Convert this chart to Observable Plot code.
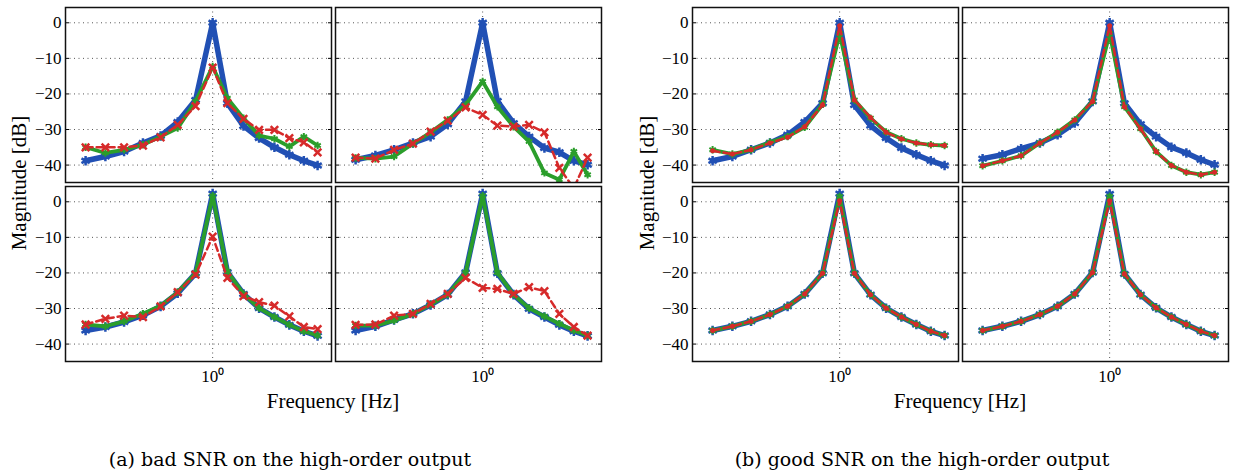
<!DOCTYPE html>
<html><head><meta charset="utf-8">
<script src="https://cdn.jsdelivr.net/npm/d3@7"></script>
<script src="https://cdn.jsdelivr.net/npm/@observablehq/plot@0.6"></script>
<style>
body{margin:0;background:#fff;}
#wrap{position:relative;width:1234px;height:473px;overflow:hidden;background:#fff;font-family:"Liberation Serif","Times New Roman",serif;color:#000;}
#wrap svg{position:absolute;top:0;}
.lbl{position:absolute;white-space:nowrap;transform:translate(-50%,-50%);line-height:1;}
.ylab{transform:translate(-50%,-50%) rotate(-90deg);}
.cap{font-family:"DejaVu Serif",serif;font-size:19px;}
</style></head><body><div id="wrap"></div>
<script>
// frequency grid [Hz]
const freqs = [0.309, 0.371, 0.441, 0.525, 0.618, 0.724, 0.854, 1.0, 1.146, 1.33, 1.536, 1.77, 2.032, 2.323, 2.638];
const yTicks = [0, -10, -20, -30, -40];
const xTicks = [1];

// (a) bad SNR — top-left
const a1Blue  = [-38.8,-37.6,-36.2,-33.8,-31.8,-27.9,-21.7,0,-22.6,-29.0,-32.4,-35.0,-37.1,-38.8,-40.1];
const a1Green = [-35.0,-36.6,-35.7,-34.3,-32.0,-29.6,-22.1,-12.3,-21.2,-26.8,-31.7,-32.6,-34.8,-32.0,-34.5];
const a1Red   = [-35.0,-35.0,-35.0,-34.5,-32.2,-28.7,-23.4,-12.6,-22.6,-27.0,-30.1,-30.1,-32.4,-33.6,-36.4];
// (a) top-right
const a2Blue  = [-38.5,-37.3,-35.7,-33.8,-32.0,-28.5,-22.1,0,-22.0,-28.2,-32.0,-35.2,-36.4,-38.8,-39.9];
const a2Green = [-38.0,-38.2,-37.6,-34.0,-30.8,-27.3,-23.1,-16.5,-23.6,-29.2,-33.4,-42.2,-44.1,-36.2,-42.7];
const a2Red   = [-37.9,-38.2,-35.7,-34.0,-30.6,-27.5,-23.8,-25.9,-28.9,-29.2,-28.7,-30.8,-40.8,-46.5,-37.9];
// (a) bottom-left
const a3Blue  = [-36.2,-35.2,-33.8,-31.9,-29.4,-25.7,-20.1,2.3,-19.8,-25.9,-29.9,-32.4,-34.6,-36.4,-37.7];
const a3Green = [-34.5,-35.0,-33.6,-31.5,-29.2,-25.4,-20.1,1.7,-19.6,-25.9,-29.9,-32.4,-34.6,-36.4,-37.6];
const a3Red   = [-34.5,-32.9,-32.0,-32.4,-29.4,-25.4,-20.5,-9.8,-21.4,-26.5,-28.2,-29.2,-32.2,-35.2,-35.8];
// (a) bottom-right
const a4Blue  = [-36.2,-35.0,-33.2,-31.5,-29.0,-26.1,-19.9,2.3,-20.1,-26.1,-30.1,-32.4,-34.6,-36.4,-37.7];
const a4Green = [-34.8,-34.8,-33.4,-31.5,-28.9,-26.1,-19.9,1.7,-19.9,-26.1,-29.9,-32.2,-34.3,-36.2,-37.6];
const a4Red   = [-34.6,-34.5,-32.0,-31.5,-28.7,-25.9,-21.4,-24.2,-24.5,-25.9,-24.0,-25.1,-31.5,-35.2,-37.6];
// (b) good SNR — top-left
const b1Blue  = [-38.8,-37.6,-35.7,-33.8,-31.5,-27.9,-22.6,0,-23.1,-28.9,-32.4,-35.2,-37.1,-38.8,-40.1];
const b1Green = [-35.7,-36.9,-35.7,-33.6,-32.0,-29.4,-22.9,-3.0,-21.7,-26.8,-30.7,-32.6,-33.8,-34.3,-34.5];
const b1Red   = [-36.0,-36.9,-35.7,-33.8,-32.2,-29.2,-23.1,-0.8,-21.7,-26.6,-30.8,-32.7,-33.8,-34.3,-34.5];
// (b) top-right
const b2Blue  = [-38.2,-37.1,-35.4,-33.8,-31.5,-28.2,-22.1,0,-22.6,-28.5,-32.0,-35.0,-36.6,-38.5,-39.9];
const b2Green = [-40.2,-38.8,-37.4,-33.8,-30.8,-27.3,-22.1,-3.0,-23.6,-29.8,-36.2,-40.1,-42.0,-42.7,-42.0];
const b2Red   = [-40.2,-38.8,-37.4,-33.8,-30.8,-27.3,-22.1,-0.8,-23.6,-29.8,-36.2,-40.1,-42.0,-42.7,-42.0];
// (b) bottom-left
const b3Blue  = [-36.2,-35.0,-33.6,-31.7,-29.4,-25.9,-20.1,2.3,-20.1,-26.1,-29.9,-32.4,-34.5,-36.4,-37.6];
const b3Green = [-36.2,-35.0,-33.6,-31.7,-29.4,-25.9,-20.1,1.5,-20.1,-26.1,-29.9,-32.4,-34.5,-36.4,-37.6];
const b3Red   = [-36.2,-35.0,-33.6,-31.7,-29.4,-25.9,-20.1,0.3,-20.1,-26.1,-29.9,-32.4,-34.5,-36.4,-37.6];
// (b) bottom-right
const b4Blue  = [-36.2,-35.0,-33.6,-31.7,-29.4,-25.9,-19.9,2.2,-20.3,-26.1,-29.8,-32.4,-34.5,-36.4,-37.6];
const b4Green = [-36.2,-35.0,-33.6,-31.7,-29.4,-25.9,-19.9,1.5,-20.3,-26.1,-29.8,-32.4,-34.5,-36.4,-37.6];
const b4Red   = [-36.2,-35.0,-33.6,-31.7,-29.4,-25.9,-19.9,0.3,-20.3,-26.1,-29.8,-32.4,-34.5,-36.4,-37.6];

const BLUE = "#2150b4", GREEN = "#2b9e2b", RED = "#d62a2a";

function build(panels) {
  const rows = [];
  for (const p of panels) {
    for (const [s, vals] of [["blue", p.blue], ["green", p.green], ["red", p.red]]) {
      vals.forEach((v, i) => rows.push({row: p.row, col: p.col, series: s, f: freqs[i], db: v}));
    }
  }
  return rows;
}

const dataA = build([
  {row: 0, col: 0, blue: a1Blue, green: a1Green, red: a1Red},
  {row: 0, col: 1, blue: a2Blue, green: a2Green, red: a2Red},
  {row: 1, col: 0, blue: a3Blue, green: a3Green, red: a3Red},
  {row: 1, col: 1, blue: a4Blue, green: a4Green, red: a4Red}
]);
const dataB = build([
  {row: 0, col: 0, blue: b1Blue, green: b1Green, red: b1Red},
  {row: 0, col: 1, blue: b2Blue, green: b2Green, red: b2Red},
  {row: 1, col: 0, blue: b3Blue, green: b3Green, red: b3Red},
  {row: 1, col: 1, blue: b4Blue, green: b4Green, red: b4Red}
]);

function groupPlot(data, o) {
  const isB = o.redDots;
  const ser = s => d => d.series === s;
  return Plot.plot({
    width: o.width, height: 392,
    marginLeft: o.ml, marginRight: o.mr, marginTop: 6, marginBottom: 30,
    style: {fontFamily: "'Liberation Serif', 'Times New Roman', serif", fontSize: "17px", background: "transparent", color: "#000"},
    x: {type: "log", domain: [0.2566, 3.0]},
    y: {domain: [-44.9, 4.3]},
    fx: {domain: [0, 1], paddingInner: o.px, paddingOuter: 0, axis: null},
    fy: {domain: [0, 1], paddingInner: 0.0222, paddingOuter: 0, axis: null},
    facet: {data, x: "col", y: "row"},
    marks: [
      Plot.gridY(yTicks, {stroke: "#555", strokeOpacity: 1, strokeWidth: 1, strokeDasharray: "1,3.5"}),
      Plot.ruleX(xTicks, {stroke: "#555", strokeOpacity: 1, strokeWidth: 1, strokeDasharray: "1,3.5"}),
      Plot.line(data, {filter: ser("blue"), x: "f", y: "db", stroke: BLUE, strokeWidth: 5.5, strokeLinejoin: "round", clip: true}),
      Plot.dot(data, {filter: ser("blue"), x: "f", y: "db", symbol: "asterisk", r: 4.5, stroke: BLUE, strokeWidth: 2.5, clip: true}),
      Plot.line(data, {filter: ser("green"), x: "f", y: "db", stroke: GREEN, strokeWidth: 3.8, strokeLinejoin: "round", clip: true}),
      Plot.dot(data, {filter: ser("green"), x: "f", y: "db", symbol: "asterisk", r: 3.5, stroke: GREEN, strokeWidth: 2, clip: true}),
      Plot.line(data, {filter: ser("red"), x: "f", y: "db", stroke: RED, strokeWidth: 2.5, strokeDasharray: "7,4", strokeLinejoin: "round", clip: true}),
      isB
        ? Plot.dot(data, {filter: ser("red"), x: "f", y: "db", r: 2.5, fill: RED, stroke: null, clip: true})
        : Plot.dot(data, {filter: ser("red"), x: "f", y: "db", symbol: "times", r: 3.5, stroke: RED, strokeWidth: 2.5, clip: true}),
      Plot.axisY({ticks: yTicks, tickSize: 0, tickPadding: 4, label: null}),
      Plot.axisY({anchor: "left", ticks: yTicks, tickSize: -4, tickFormat: () => "", facetAnchor: null, label: null}),
      Plot.axisY({anchor: "right", ticks: yTicks, tickSize: -4, tickFormat: () => "", facetAnchor: null, label: null}),
      Plot.axisX({ticks: xTicks, tickFormat: () => "10⁰", tickSize: 0, tickPadding: 8, label: null}),
      Plot.frame({stroke: "#111", strokeWidth: 1.5})
    ]
  });
}

const wrap = document.getElementById("wrap");
const svgA = groupPlot(dataA, {width: 607, ml: 64, mr: 5.3, px: 0.01367, redDots: false});
svgA.style.left = "0px";
wrap.appendChild(svgA);
const svgB = groupPlot(dataB, {width: 617, ml: 75.3, mr: 5.5, px: 0.0148, redDots: true});
svgB.style.left = "617px";
wrap.appendChild(svgB);

function label(text, x, y, cls, size) {
  const d = document.createElement("div");
  d.className = "lbl " + (cls || "");
  d.textContent = text;
  d.style.left = x + "px";
  d.style.top = y + "px";
  if (size) d.style.fontSize = size + "px";
  wrap.appendChild(d);
}
label("Magnitude [dB]", 19, 183, "ylab", 21);
label("Magnitude [dB]", 647, 183, "ylab", 21);
label("Frequency [Hz]", 333, 401, "", 21);
label("Frequency [Hz]", 960, 401, "", 21);
label("(a) bad SNR on the high-order output", 290, 459, "cap");
label("(b) good SNR on the high-order output", 922, 459, "cap");
</script></body></html>
